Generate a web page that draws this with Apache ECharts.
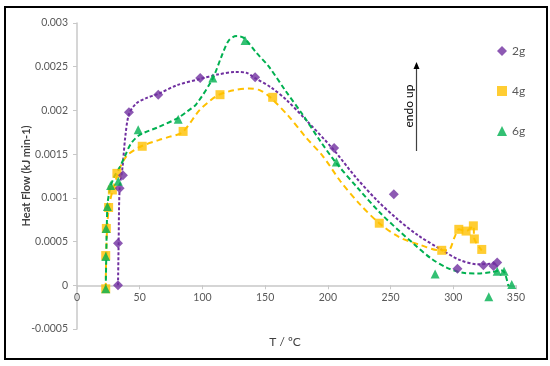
<!DOCTYPE html>
<html><head><meta charset="utf-8">
<script src="https://cdn.jsdelivr.net/npm/echarts@6/dist/echarts.min.js"></script>
<style>html,body{margin:0;padding:0;background:#fff}#c{width:550px;height:366px}</style>
</head><body><div id="c"></div>
<script>
// ---- Data ----
var seriesNames = ['2g', '4g', '6g'];
// 2g measured points
var x2g = [32.7, 32.7, 34.0, 36.6, 41.4, 64.8, 98.2, 142, 205, 252.6, 303.3, 324, 332, 335];
var y2g = [0, 0.00048, 0.00111, 0.00126, 0.00198, 0.00218, 0.00237, 0.00238, 0.00157, 0.00104, 0.00019, 0.00023, 0.00022, 0.00026];
// 4g measured points
var x4g = [22.9, 22.9, 23.4, 25.2, 28.2, 31.8, 52, 84.6, 114, 156, 241, 290.8, 304.4, 310.2, 316, 316.8, 322.7];
var y4g = [-0.00004, 0.00034, 0.00065, 0.00089, 0.00109, 0.00128, 0.00159, 0.00176, 0.00218, 0.00215, 0.00071, 0.0004, 0.00064, 0.00062, 0.00068, 0.00053, 0.00041];
// 6g measured points
var x6g = [22.9, 22.9, 23.2, 24.2, 26.8, 32.9, 48.8, 80.7, 108.3, 134, 206.8, 285.5, 328.3, 335, 340.5, 346.6];
var y6g = [-0.00004, 0.00033, 0.00065, 0.0009, 0.00114, 0.00119, 0.00178, 0.0019, 0.00237, 0.0028, 0.00141, 0.00013, -0.00013, 0.00016, 0.00016, 0.00001];
// dashed trend curves
var xFit2g = [32.7, 33.2, 34, 36.3, 38.5, 41.5, 47.3, 55, 64.8, 80, 98, 112, 126, 135, 142, 155, 167, 182, 204, 222, 240, 256, 272, 289, 305, 320, 335];
var yFit2g = [0, 0.0005, 0.00111, 0.00135, 0.0017, 0.00196, 0.00208, 0.00214, 0.00219, 0.00229, 0.00236, 0.00241, 0.00244, 0.00243, 0.00237, 0.00226, 0.00212, 0.0019, 0.00156, 0.00124, 0.00096, 0.00075, 0.00057, 0.00042, 0.00029, 0.00024, 0.00025];
var xFit4g = [22.9, 23.2, 24, 25.5, 28.5, 32.4, 36, 41, 51.3, 65, 74, 84, 97.5, 106, 113.3, 125, 137, 146, 154, 169, 182, 196.4, 210, 226, 241, 257, 274, 289, 296, 301, 304.4, 310.2, 316, 316.8, 322.7];
var yFit4g = [-0.00004, 0.0003, 0.00065, 0.0009, 0.00109, 0.00127, 0.0014, 0.0015, 0.00159, 0.00166, 0.0017, 0.00175, 0.002, 0.00211, 0.00218, 0.00223, 0.00225, 0.00223, 0.00215, 0.00193, 0.0017, 0.00147, 0.00119, 0.00092, 0.00071, 0.00055, 0.00046, 0.0004, 0.0004, 0.00055, 0.00064, 0.00062, 0.00068, 0.00053, 0.0004];
var xFit6g = [22.9, 23.3, 23.8, 24.5, 27, 30, 34, 38, 43, 50, 65, 80, 88, 95, 108, 115, 121, 127, 133, 143, 153, 166, 180, 193, 206, 224, 241.6, 257, 268, 282, 295, 309, 320, 330, 338.5, 341, 344];
var yFit6g = [-0.00004, 0.0003, 0.0007, 0.00095, 0.00114, 0.00125, 0.00135, 0.00147, 0.00162, 0.00172, 0.00181, 0.00191, 0.00199, 0.00207, 0.00236, 0.00261, 0.0028, 0.00285, 0.00283, 0.00266, 0.0025, 0.00223, 0.00195, 0.00167, 0.00141, 0.00111, 0.00083, 0.00062, 0.00048, 0.00031, 0.0002, 0.00014, 0.000135, 0.00015, 0.00017, 0.00014, -0.00001];
// axis ticks
var xTicks = [0, 50, 100, 150, 200, 250, 300, 350];
var yTicks = [-0.0005, 0, 0.0005, 0.001, 0.0015, 0.002, 0.0025, 0.003];

function pairs(xs, ys) { return xs.map(function (x, i) { return [x, ys[i]]; }); }

var colors = ['#7030A0', '#FFC000', '#00B050'];
var FONT = 'Lato, "Open Sans", sans-serif';
var GL = 77, GR = 34, GT = 23, GB = 37;
var yMin = yTicks[0], yMax = yTicks[yTicks.length - 1];
var plotH = 366 - GT - GB;
var zeroBottom = GB + plotH * (0 - yMin) / (yMax - yMin); // grid bottom for the x-axis grid (the y=0 line)

var chart = echarts.init(document.getElementById('c'), null, {renderer: 'canvas'});
chart.setOption({
  animation: false,
  backgroundColor: '#fff',
  grid: [
    {left: GL, right: GR, top: GT, bottom: GB, containLabel: false},
    {left: GL, right: GR, top: GT, bottom: zeroBottom, containLabel: false}
  ],
  xAxis: [
    {type: 'value', gridIndex: 0, min: xTicks[0], max: xTicks[xTicks.length - 1], interval: 50, show: false},
    {type: 'value', gridIndex: 1, min: xTicks[0], max: xTicks[xTicks.length - 1], interval: 50, position: 'bottom',
      axisLine: {onZero: false, lineStyle: {color: '#c8c8c8', width: 1.5}},
      axisTick: {show: true, length: 4, lineStyle: {color: '#c8c8c8'}},
      axisLabel: {color: '#595959', fontSize: 10.5, fontFamily: FONT, margin: 7},
      splitLine: {show: false}}
  ],
  yAxis: [
    {type: 'value', gridIndex: 0, min: yMin, max: yMax, interval: 0.0005,
      axisLine: {show: true, onZero: false, lineStyle: {color: '#c8c8c8', width: 1.5}},
      axisTick: {show: true, length: 4, lineStyle: {color: '#c8c8c8'}},
      axisLabel: {color: '#595959', fontSize: 10.5, fontFamily: FONT, margin: 9,
        formatter: function (v) { return String(parseFloat(v.toFixed(4))); }},
      splitLine: {show: false}},
    {type: 'value', gridIndex: 1, min: 0, max: 1, show: false}
  ],
  legend: {
    data: seriesNames, orient: 'vertical', left: 492, top: 40, itemGap: 28,
    itemWidth: 10, itemHeight: 10,
    textStyle: {color: '#595959', fontSize: 12, fontFamily: FONT}
  },
  series: [
    {type: 'line', name: 'fit2g', data: pairs(xFit2g, yFit2g), smooth: 0.3, showSymbol: false, symbol: 'none',
      lineStyle: {color: colors[0], width: 2, type: [3, 2]}, z: 2, silent: true},
    {type: 'line', name: 'fit4g', data: pairs(xFit4g, yFit4g), smooth: 0.3, showSymbol: false, symbol: 'none',
      lineStyle: {color: colors[1], width: 2, type: [6, 4]}, z: 2, silent: true},
    {type: 'line', name: 'fit6g', data: pairs(xFit6g, yFit6g), smooth: 0.3, showSymbol: false, symbol: 'none',
      lineStyle: {color: colors[2], width: 2, type: [5, 3]}, z: 2, silent: true},
    {type: 'scatter', name: seriesNames[0], data: pairs(x2g, y2g), symbol: 'diamond', symbolSize: 10,
      itemStyle: {color: colors[0]}, z: 5},
    {type: 'scatter', name: seriesNames[1], data: pairs(x4g, y4g), symbol: 'rect', symbolSize: 9,
      itemStyle: {color: colors[1]}, z: 4},
    {type: 'scatter', name: seriesNames[2], data: pairs(x6g, y6g), symbol: 'triangle', symbolSize: 9,
      itemStyle: {color: colors[2]}, z: 5}
  ],
  graphic: [
    {type: 'rect', shape: {x: 5, y: 7, width: 542, height: 352}, style: {fill: 'none', stroke: '#000', lineWidth: 2}, z: 100},
    {type: 'line', shape: {x1: 416.5, y1: 151, x2: 416.5, y2: 68}, style: {stroke: '#404040', lineWidth: 1.2}, z: 100},
    {type: 'polygon', shape: {points: [[413.5, 69], [419.5, 69], [416.5, 62]]}, style: {fill: '#000'}, z: 100},
    {type: 'text', x: 409.5, y: 106, rotation: Math.PI / 2,
      style: {text: 'endo up', fill: '#000', font: '12px ' + FONT, align: 'center', verticalAlign: 'middle'}, z: 100},
    {type: 'text', x: 26, y: 176, rotation: Math.PI / 2,
      style: {text: 'Heat Flow (kJ min-1)', fill: '#404040', font: 'bold 11px ' + FONT, align: 'center', verticalAlign: 'middle'}, z: 100},
    {type: 'text', x: 285, y: 342,
      style: {text: 'T / ºC', fill: '#404040', font: '12px ' + FONT, align: 'center', verticalAlign: 'middle'}, z: 100}
  ]
});
</script></body></html>
